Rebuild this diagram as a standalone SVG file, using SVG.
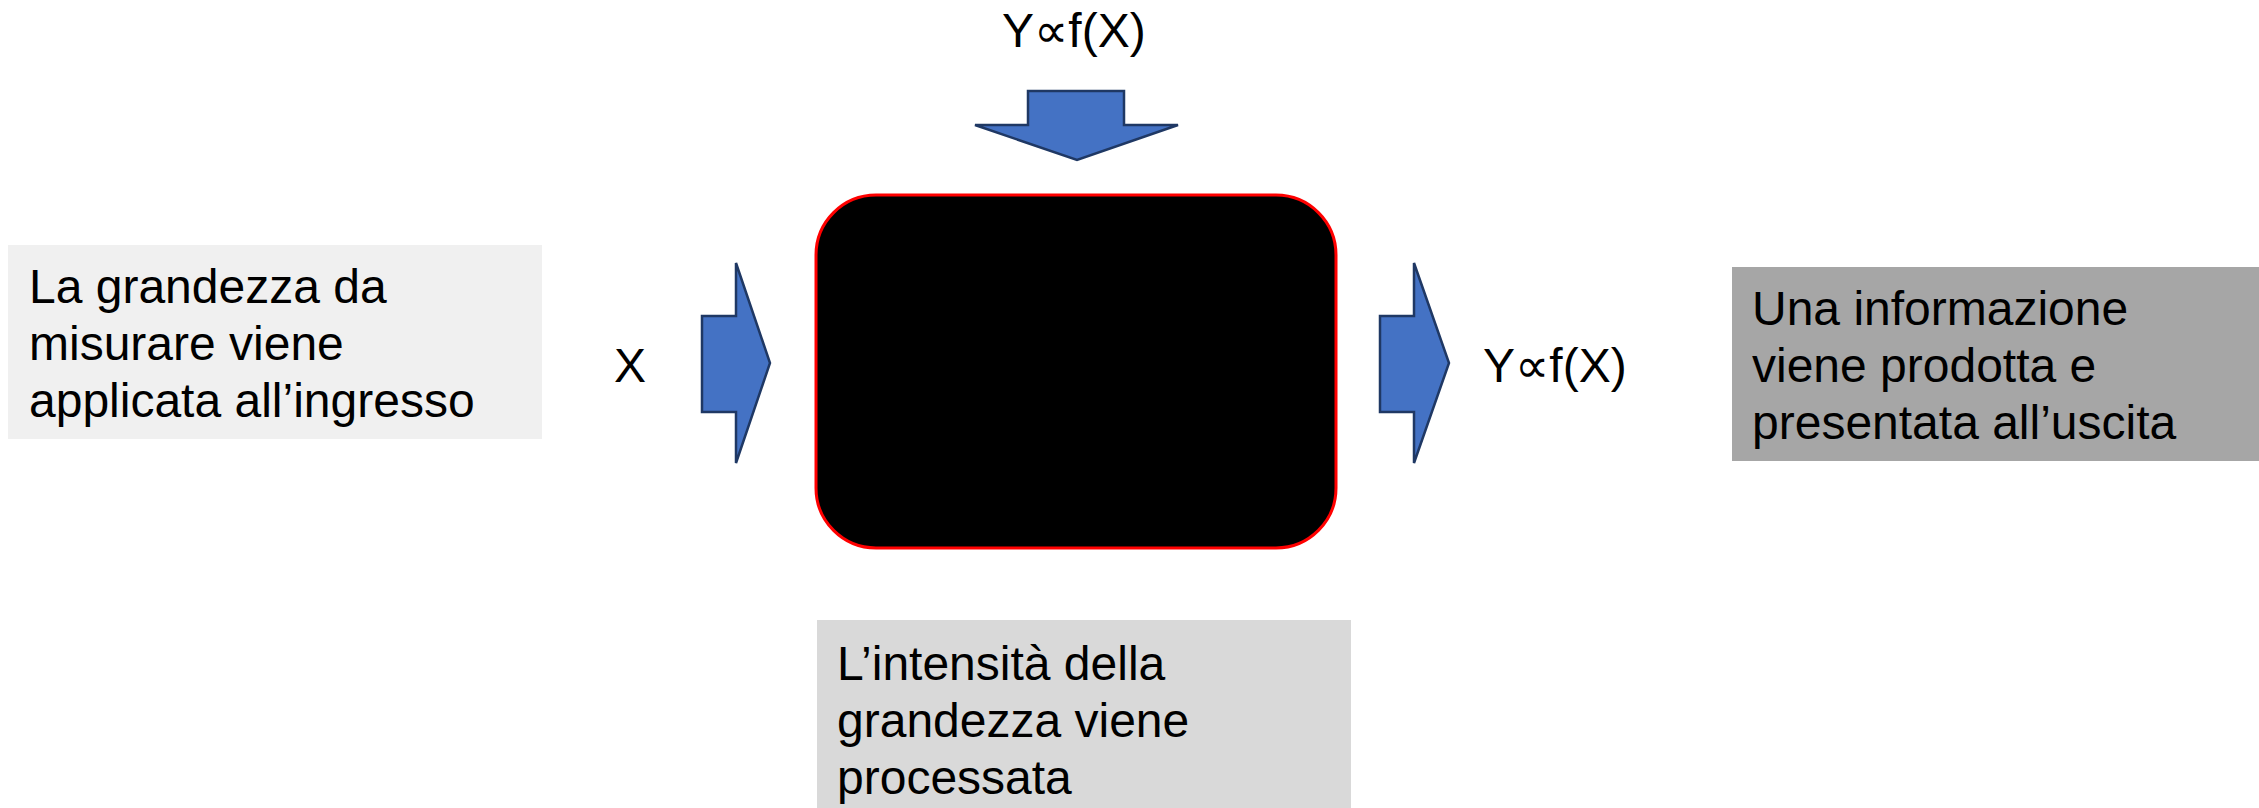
<svg xmlns="http://www.w3.org/2000/svg" width="2259" height="808" viewBox="0 0 2259 808">
<style>
  .t{font-family:"Liberation Sans","DejaVu Sans",Arial,sans-serif;font-size:48px;fill:#000}
  .arr{fill:#4472c4;stroke:#1f3864;stroke-width:2.5;stroke-linejoin:miter}
</style>
<rect width="2259" height="808" fill="#fff"/>
<g id="box-input">
  <rect x="8" y="245" width="534" height="194" fill="#f0f0f0"/>
  <text class="t" x="29" y="303">La grandezza da</text>
  <text class="t" x="29" y="360">misurare viene</text>
  <text class="t" x="29" y="417">applicata all’ingresso</text>
</g>
<g id="box-output">
  <rect x="1732" y="267" width="527" height="194" fill="#a6a6a6"/>
  <text class="t" x="1752" y="325">Una informazione</text>
  <text class="t" x="1752" y="382">viene prodotta e</text>
  <text class="t" x="1752" y="439">presentata all’uscita</text>
</g>
<g id="box-process">
  <rect x="817" y="620" width="534" height="188" fill="#d9d9d9"/>
  <text class="t" x="837" y="680">L’intensità della</text>
  <text class="t" x="837" y="737">grandezza viene</text>
  <text class="t" x="837" y="794">processata</text>
</g>
<g id="blackbox">
  <rect x="816" y="195" width="520" height="353" rx="60" ry="60" fill="#000" stroke="#ff0000" stroke-width="3"/>
</g>
<g id="label-x">
  <text class="t" x="614" y="382">X</text>
</g>
<g id="label-y-top">
  <text class="t" x="1002" y="47">Y∝f(X)</text>
</g>
<g id="label-y-right">
  <text class="t" x="1483" y="382">Y∝f(X)</text>
</g>
<g id="connectors">
  <polygon class="arr" points="1028,91 1124,91 1124,125 1178,125 1077,160 975,125 1028,125"/>
  <polygon class="arr" points="702,316 736,316 736,263 770,363 736,463 736,412 702,412"/>
  <polygon class="arr" points="1380,316 1414,316 1414,263 1449,363 1414,463 1414,412 1380,412"/>
</g>
</svg>
